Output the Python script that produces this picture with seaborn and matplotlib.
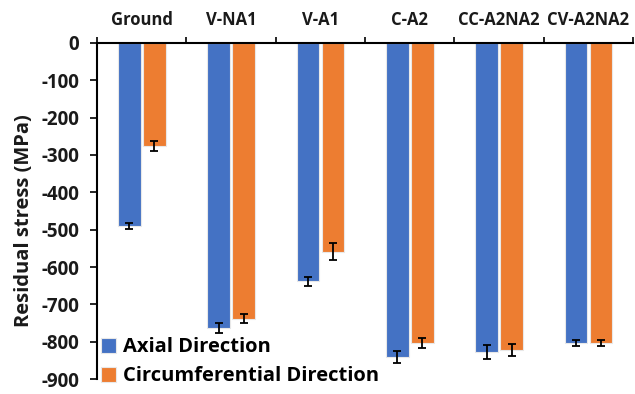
import pandas as pd
import seaborn as sns
import matplotlib.pyplot as plt

# valores (MPa)
categorias = ["Ground", "V-NA1", "V-A1", "C-A2", "CC-A2NA2", "CV-A2NA2"]
axial = [-490, -763, -638, -840, -828, -804]
axial_err = [8, 14, 12, 16, 18, 8]
circ = [-276, -739, -559, -804, -822, -804]
circ_err = [13, 12, 22, 14, 16, 8]
series = ["Axial Direction", "Circumferential Direction"]
colores = ["#4472C4", "#ED7D31"]

df = pd.DataFrame({
    "Categoria": categorias * 2,
    "Direccion": [series[0]] * 6 + [series[1]] * 6,
    "Valor": axial + circ,
    "Error": axial_err + circ_err,
})

plt.rcParams["font.family"] = ["Open Sans", "DejaVu Sans"]
plt.rcParams["axes.unicode_minus"] = False
fig = plt.figure(figsize=(6.35, 3.94), dpi=100)
ax = fig.add_axes([0.153, 0.038, 0.844, 0.853])

sns.barplot(data=df, x="Categoria", y="Valor", hue="Direccion", order=categorias,
            hue_order=series, palette=colores, width=0.56, gap=0.1,
            errorbar=None, edgecolor="#e8e8e8", linewidth=0.8, saturation=1, ax=ax)

# barras de error a partir de la geometria de cada barra
for cont, (_, sub) in zip(ax.containers, df.groupby("Direccion", sort=False)):
    xs = [p.get_x() + p.get_width() / 2 for p in cont.patches]
    ax.errorbar(xs, sub["Valor"].values, yerr=sub["Error"].values, fmt="none",
                ecolor="black", elinewidth=1.3, capsize=3, capthick=1.3, zorder=5)

ax.set_ylim(-900, 0)
ax.set_yticks(range(-900, 1, 100))
ax.set_xlim(-0.5, len(categorias) - 0.5)
ax.xaxis.tick_top()
ax.set_xticks(range(len(categorias)))
ax.set_xticks([i - 0.5 for i in range(len(categorias) + 1)], minor=True)
ax.tick_params(axis="x", which="major", length=0, pad=10, labelsize=12)
ax.tick_params(axis="x", which="minor", length=4, width=1.2, top=True, bottom=False)
ax.tick_params(axis="y", length=5, width=1.2, labelsize=13.5, pad=8)
for lbl in ax.get_xticklabels() + ax.get_yticklabels():
    lbl.set_fontweight("bold")
    lbl.set_color("#1a1a1a")

for s in ["right", "bottom"]:
    ax.spines[s].set_visible(False)
for s in ["left", "top"]:
    ax.spines[s].set_linewidth(1.5)

ax.set_xlabel("")
ax.set_ylabel("Residual stress (MPa)", fontsize=14.5, fontweight="bold", color="#1a1a1a")
ax.yaxis.set_label_coords(-0.118, 0.47)

ax.legend(title=None, loc="lower left", bbox_to_anchor=(0.008, -0.022), frameon=False,
          prop={"size": 14.5, "weight": "bold"}, handlelength=0.7, handleheight=0.75,
          handletextpad=0.35, labelspacing=0.45, borderaxespad=0, borderpad=0)

plt.savefig("out.png", dpi=100)
